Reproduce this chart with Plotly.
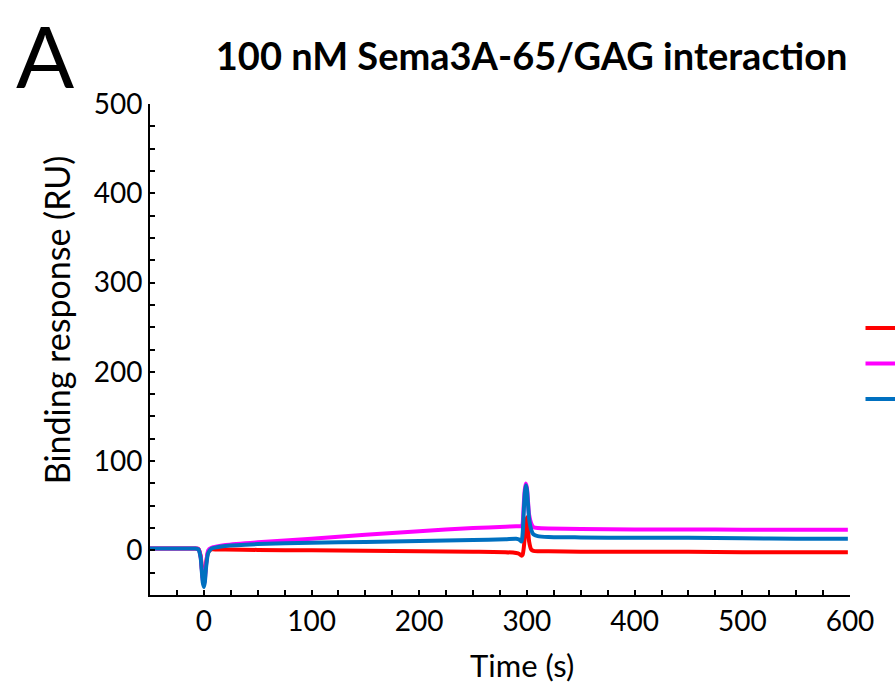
import plotly.graph_objects as go

time = [-50, -30, -15, -8, -5, -3, -2, -1, 0, 1, 2, 4, 7, 12, 20, 50, 100, 150, 200, 250,
        280, 290, 293, 295, 296, 297, 298, 299, 300, 301, 302, 304, 306, 310, 320, 350,
        400, 450, 500, 550, 598]

red = [2, 2, 2, 2, 1.5, -6, -18, -30, -35, -28, -15, -2, 1, 1, 1, 0.5, 0, -0.5, -1, -1.5,
       -2, -3, -4, -6, -5, 2, 15, 30, 37, 25, 10, 1, -0.5, -1, -1, -1.5,
       -1.5, -1.5, -2, -2, -2]

magenta = [2, 2, 2, 2, 1.5, -7, -20, -33, -39, -32, -17, 0, 3, 4.5, 6, 9, 13, 17.5, 21.5, 25,
           26.5, 27, 27, 27, 30, 50, 68, 75, 70, 55, 40, 30, 26, 25, 24.5, 24,
           23.5, 23.5, 23, 23, 23]

blue = [2, 2, 2, 2, 1, -8, -22, -36, -41, -35, -20, -3, 2, 3.5, 5, 7, 8.5, 9.5, 10.5, 11.5,
        12.5, 13, 12, 10, 18, 42, 64, 73, 68, 52, 36, 23, 18, 16, 15, 14.5,
        14, 14, 13.5, 13, 13]

names = ["", "", ""]
colors = ["#FF0000", "#FF00FF", "#0070C0"]

fig = go.Figure()
for name, ys, c in zip(names, [red, magenta, blue], colors):
    fig.add_trace(go.Scatter(x=time, y=ys, mode="lines", name=name, showlegend=True,
                             line=dict(color=c, width=4, shape="spline", smoothing=0.6)))

font_family = "Lato, 'Open Sans', sans-serif"
axis_common = dict(
    showline=True, linecolor="black", linewidth=2,
    ticks="inside", ticklen=5, tickwidth=2, tickcolor="black",
    showgrid=False, zeroline=False,
    tickfont=dict(size=28, color="black", family=font_family),
    minor=dict(ticks="inside", ticklen=5, tickwidth=2, tickcolor="black", dtick=25),
)

fig.update_xaxes(range=[-50, 600], dtick=100, tick0=0, **axis_common)
fig.update_yaxes(range=[-50, 500], dtick=100, tick0=0, **axis_common)

fig.update_layout(
    width=895, height=692,
    margin=dict(l=150, r=45, t=104, b=97, autoexpand=False),
    plot_bgcolor="white", paper_bgcolor="white",
    font=dict(family=font_family, color="black"),
    title=dict(text="<b>100 nM Sema3A-65/GAG interaction</b>", x=0.594, xanchor="center",
               y=0.918, yanchor="middle", font=dict(size=38, color="black", family=font_family)),
    legend=dict(x=1.015, xanchor="left", y=0.59, yanchor="top",
                font=dict(size=25, color="black", family=font_family),
                bgcolor="rgba(0,0,0,0)", itemwidth=30),
    annotations=[
        dict(text="A", xref="paper", yref="paper", x=-0.195, y=1.209,
             xanchor="left", yanchor="top", showarrow=False,
             font=dict(size=86, color="black", family=font_family)),
        dict(text="Time (s)", xref="paper", yref="paper", x=0.531, y=-0.143,
             xanchor="center", yanchor="middle", showarrow=False,
             font=dict(size=31, color="black", family=font_family)),
        dict(text="Binding response (RU)", xref="paper", yref="paper", x=-0.134, y=0.56,
             xanchor="center", yanchor="middle", textangle=-90, showarrow=False,
             font=dict(size=34, color="black", family=font_family)),
    ],
)

fig.write_html("out.html")
